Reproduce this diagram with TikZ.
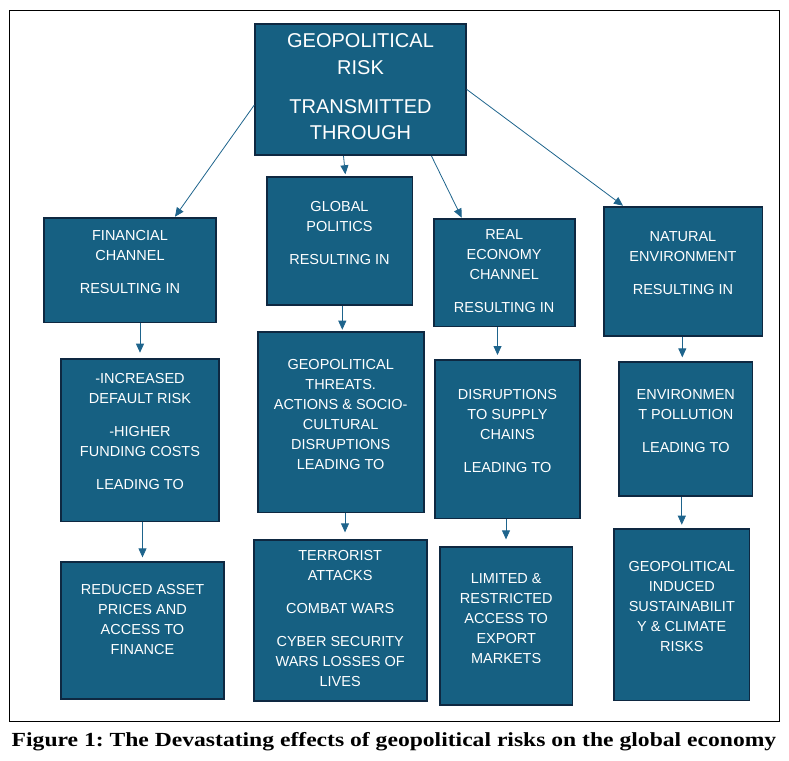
\documentclass[tikz,border=0pt]{standalone}
\usepackage{fontspec}
\setmainfont{Liberation Sans}
\newfontfamily\capfont[FakeStretch=1.18]{Liberation Serif}
\usepackage{tikz}
\usetikzlibrary{arrows.meta, positioning}
\definecolor{boxfill}{RGB}{22,96,130}
\definecolor{boxline}{RGB}{14,40,65}
\definecolor{arrblue}{RGB}{30,100,140}

\begin{document}
\begin{tikzpicture}[x=1pt, y=-1pt,
    box/.style={draw=boxline, line width=1.8pt, fill=boxfill, inner sep=0pt},
    txt/.style={text=white, align=center, inner sep=0pt, font=\fontsize{14.5}{20}\selectfont},
    arr/.style={-{Triangle[length=9pt, width=8pt]}, draw=arrblue, line width=0.8pt}]
    \useasboundingbox (0,0) rectangle (789,760);
    \draw[line width=0.8pt] (9,10) rectangle (779,721);
    % top box
    \node[box, minimum width=210.6pt, minimum height=131.5pt] (top) at (360.5,89.4) {};
    \node[txt, font=\fontsize{20}{26.5}\selectfont, below=10.6pt of top.north] (top-t)
        {GEOPOLITICAL\\RISK\\[12.5pt]TRANSMITTED\\THROUGH};
    % channels
    \node[box, minimum width=171.6pt, minimum height=104.8pt] (fin) at (130,270) {};
    \node[box, minimum width=145.8pt, minimum height=128.5pt] (glob) at (339.5,240.9) {};
    \node[box, minimum width=141.2pt, minimum height=107.8pt] (real) at (504.2,272.5) {};
    \node[box, minimum width=158.8pt, minimum height=129.2pt] (nat) at (683,271.2) {};
    \node[txt, below=13.9pt of fin.north] (fin-t) {FINANCIAL\\CHANNEL\\[13pt]RESULTING IN};
    \node[txt, below=25.8pt of glob.north] (glob-t) {GLOBAL\\POLITICS\\[13pt]RESULTING IN};
    \node[txt, below=11.8pt of real.north] (real-t) {REAL\\ECONOMY\\CHANNEL\\[13pt]RESULTING IN};
    \node[txt, below=26.1pt of nat.north] (nat-t) {NATURAL\\ENVIRONMENT\\[13pt]RESULTING IN};
    % effects
    \node[box, minimum width=157.3pt, minimum height=162.8pt] (incr) at (140,440) {};
    \node[box, minimum width=165.9pt, minimum height=180.8pt] (thr) at (340.7,422) {};
    \node[box, minimum width=144.3pt, minimum height=158.8pt] (disr) at (507.5,439) {};
    \node[box, minimum width=133.2pt, minimum height=134.5pt] (envp) at (685.8,428.9) {};
    \node[txt, below=15.9pt of incr.north] (incr-t) {-INCREASED\\DEFAULT RISK\\[13pt]-HIGHER\\FUNDING COSTS\\[13pt]LEADING TO};
    \node[txt, below=28.9pt of thr.north] (thr-t) {GEOPOLITICAL\\THREATS.\\ACTIONS \& SOCIO-\\CULTURAL\\DISRUPTIONS\\LEADING TO};
    \node[txt, below=30.8pt of disr.north] (disr-t) {DISRUPTIONS\\TO SUPPLY\\CHAINS\\[13pt]LEADING TO};
    \node[txt, below=28.8pt of envp.north] (envp-t) {ENVIRONMEN\\T POLLUTION\\[13pt]LEADING TO};
    % outcomes
    \node[box, minimum width=162.4pt, minimum height=136.9pt] (redu) at (142.5,630.7) {};
    \node[box, minimum width=172.9pt, minimum height=160.9pt] (terr) at (340.2,620.7) {};
    \node[box, minimum width=132.7pt, minimum height=158.5pt] (limi) at (506.2,625.9) {};
    \node[box, minimum width=135.2pt, minimum height=171.8pt] (gind) at (681.8,614.5) {};
    \node[txt, below=23.2pt of redu.north] (redu-t) {REDUCED ASSET\\PRICES AND\\ACCESS TO\\FINANCE};
    \node[txt, below=11.3pt of terr.north] (terr-t) {TERRORIST\\ATTACKS\\[13pt]COMBAT WARS\\[13pt]CYBER SECURITY\\WARS LOSSES OF\\LIVES};
    \node[txt, below=27.8pt of limi.north] (limi-t) {LIMITED \&\\RESTRICTED\\ACCESS TO\\EXPORT\\MARKETS};
    \node[txt, below=33.8pt of gind.north] (gind-t) {GEOPOLITICAL\\INDUCED\\SUSTAINABILIT\\Y \& CLIMATE\\RISKS};
    % arrows
    \draw[arr] ([yshift=-15.6pt]top.west) -- ([xshift=45pt]fin.north);
    \draw[arr, shorten >=1.5pt] ([xshift=-17pt]top.south) -- ([xshift=6pt]glob.north);
    \draw[arr] ([xshift=71pt]top.south) -- ([xshift=-42.5pt]real.north);
    \draw[arr] (top.east) -- ([xshift=-60pt]nat.north);
    \draw[arr, shorten >=5pt] ([xshift=10pt]fin.south) -- (incr.north);
    \draw[arr, shorten >=1pt] ([xshift=2.8pt]glob.south) -- ([xshift=1.6pt]thr.north);
    \draw[arr, shorten >=3.7pt] ([xshift=-6.7pt]real.south) -- ([xshift=-10pt]disr.north);
    \draw[arr, shorten >=3.4pt] ([xshift=-0.7pt]nat.south) -- ([xshift=-3.5pt]envp.north);
    \draw[arr, shorten >=4pt] ([xshift=2.5pt]incr.south) -- (redu.north);
    \draw[arr, shorten >=7pt] ([xshift=4.3pt]thr.south) -- ([xshift=4.8pt]terr.north);
    \draw[arr, shorten >=6.4pt] ([xshift=-1.5pt]disr.south) -- ([xshift=-0.2pt]limi.north);
    \draw[arr, shorten >=3pt] ([xshift=-4pt]envp.south) -- (gind.north);
    % caption
    \node[font=\capfont\bfseries\frenchspacing\fontsize{20}{23}\selectfont, anchor=base] (cap) at (394,746)
        {Figure 1: The Devastating effects of geopolitical risks on the global economy};
\end{tikzpicture}
\end{document}
